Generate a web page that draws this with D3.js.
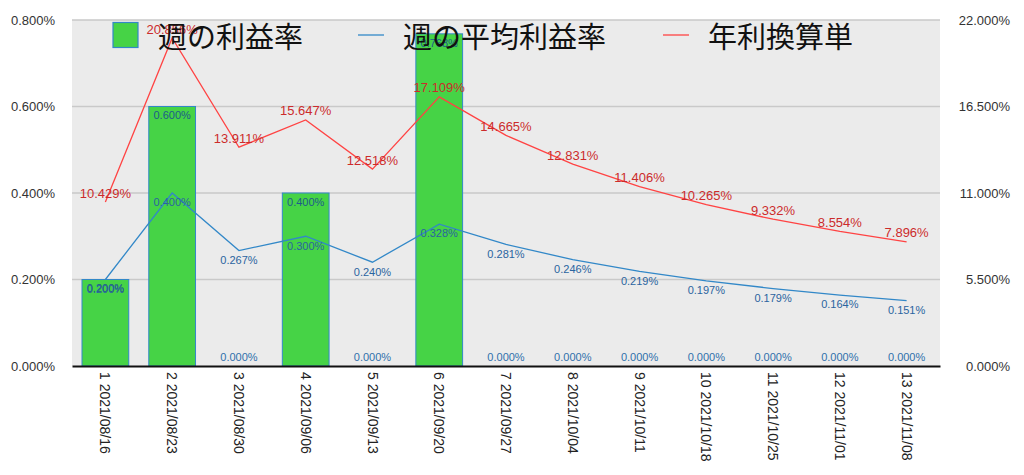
<!DOCTYPE html>
<html>
<head>
<meta charset="utf-8">
<script src="https://cdn.jsdelivr.net/npm/d3@7"></script>
<style>
  body { margin: 0; background: #fff; }
  text { font-family: "Liberation Sans", Arial, sans-serif; }
</style>
</head>
<body>
<div id="chart"></div>
<script>
const weeks = ["1 2021/08/16", "2 2021/08/23", "3 2021/08/30", "4 2021/09/06", "5 2021/09/13",
    "6 2021/09/20", "7 2021/09/27", "8 2021/10/04", "9 2021/10/11", "10 2021/10/18",
    "11 2021/10/25", "12 2021/11/01", "13 2021/11/08"];
const weeklyRate = [0.2, 0.6, 0, 0.4, 0, 0.768, 0, 0, 0, 0, 0, 0, 0];
const avgRate = [0.2, 0.4, 0.267, 0.3, 0.24, 0.328, 0.281, 0.246, 0.219, 0.197, 0.179, 0.164, 0.151];
const annualRate = [10.429, 20.856, 13.911, 15.647, 12.518, 17.109, 14.665, 12.831, 11.406, 10.265, 9.332, 8.554, 7.896];
const leftTicks = [0, 0.2, 0.4, 0.6, 0.8];
const rightTicks = [0, 5.5, 11, 16.5, 22];
const seriesNames = ["週の利益率", "週の平均利益率", "年利換算単"];

const params = {
    width: 1024,
    height: 475,
    margin: {top: 20, right: 84, bottom: 109, left: 72},
    barFill: "#46d346",
    blue: "#3288c8",
    red: "#ff4343"
};

const innerW = params.width - params.margin.left - params.margin.right;
const innerH = params.height - params.margin.top - params.margin.bottom;

const svg = d3.select("#chart")
    .append("svg")
    .attr("width", params.width)
    .attr("height", params.height)
    .append("g")
    .attr("transform", `translate(${params.margin.left},${params.margin.top})`);

const x = d3.scaleBand().domain(weeks).range([0, innerW]).padding(0);
const yL = d3.scaleLinear().domain([0, 0.8]).range([innerH, 0]);
const yR = d3.scaleLinear().domain([0, 22]).range([innerH, 0]);
const barW = x.bandwidth() * 0.7;
const cx = d => x(d) + x.bandwidth() / 2;
const fmt = v => v.toFixed(3) + "%";

// plot background
svg.append("rect")
    .attr("width", innerW)
    .attr("height", innerH)
    .attr("fill", "#ebebeb");

// grid lines
svg.append("g")
    .selectAll("line")
    .data(leftTicks.slice(1))
    .enter().append("line")
    .attr("x1", 0).attr("x2", innerW)
    .attr("y1", d => yL(d)).attr("y2", d => yL(d))
    .attr("stroke", "#c9c9c9")
    .attr("stroke-width", 1.5);

// left axis
const left = svg.append("g")
    .call(d3.axisLeft(yL).tickValues(leftTicks).tickSize(0).tickPadding(17).tickFormat(fmt));
left.select(".domain").remove();
left.selectAll("text").attr("font-size", 13).attr("fill", "#333").style("font-family", "Liberation Sans, Arial");

// right axis
const right = svg.append("g")
    .attr("transform", `translate(${innerW},0)`)
    .call(d3.axisRight(yR).tickValues(rightTicks).tickSize(0).tickPadding(70).tickFormat(fmt));
right.select(".domain").remove();
right.selectAll("text").attr("font-size", 13).attr("fill", "#333")
    .attr("text-anchor", "end").style("font-family", "Liberation Sans, Arial");

// bars
svg.append("g")
    .selectAll("rect")
    .data(weeks)
    .enter().append("rect")
    .attr("x", (d) => cx(d) - barW / 2)
    .attr("y", (d, i) => yL(weeklyRate[i]))
    .attr("width", barW)
    .attr("height", (d, i) => innerH - yL(weeklyRate[i]))
    .attr("fill", params.barFill)
    .attr("stroke", params.blue)
    .attr("stroke-width", 1);

// lines
const avgLine = d3.line().x((d, i) => cx(weeks[i])).y(d => yL(d));
const annLine = d3.line().x((d, i) => cx(weeks[i])).y(d => yR(d));

svg.append("path")
    .datum(avgRate)
    .attr("d", avgLine)
    .attr("fill", "none")
    .attr("stroke", params.blue)
    .attr("stroke-width", 1.3);

svg.append("path")
    .datum(annualRate)
    .attr("d", annLine)
    .attr("fill", "none")
    .attr("stroke", params.red)
    .attr("stroke-width", 1.3);

// x axis
const xAxis = svg.append("g")
    .attr("transform", `translate(0,${innerH})`)
    .call(d3.axisBottom(x).tickSize(0).tickSizeOuter(0));
xAxis.select(".domain").attr("stroke", "#111").attr("stroke-width", 2);
xAxis.selectAll("text")
    .attr("font-size", 14)
    .attr("fill", "#222")
    .style("font-family", "Liberation Sans, Arial")
    .style("text-anchor", "start")
    .attr("y", 0)
    .attr("dy", "0.35em")
    .attr("transform", "translate(0,6) rotate(90)");

// bar labels
svg.append("g")
    .selectAll("text")
    .data(weeklyRate)
    .enter().append("text")
    .attr("x", (d, i) => cx(weeks[i]))
    .attr("y", d => d > 0 ? yL(d) + 9 : innerH - 9)
    .attr("dy", "0.35em")
    .attr("text-anchor", "middle")
    .attr("font-size", 11)
    .attr("fill", d => d > 0 ? "#1d5c8a" : "#2f70ab")
    .text(fmt);

// average labels
svg.append("g")
    .selectAll("text")
    .data(avgRate)
    .enter().append("text")
    .attr("x", (d, i) => cx(weeks[i]))
    .attr("y", d => yL(d) + 9.5)
    .attr("dy", "0.35em")
    .attr("text-anchor", "middle")
    .attr("font-size", 11)
    .attr("fill", "#2a64a0")
    .text(fmt);

// annual labels
svg.append("g")
    .selectAll("text")
    .data(annualRate)
    .enter().append("text")
    .attr("x", (d, i) => cx(weeks[i]))
    .attr("y", d => yR(d) - 9)
    .attr("dy", "0.35em")
    .attr("text-anchor", "middle")
    .attr("font-size", 13)
    .attr("fill", "#cc2b2b")
    .text(fmt);

// legend, drawn last so it sits over the labels like the original
const legendX = [41, 286, 591];
const legend = svg.append("g")
    .selectAll("g")
    .data(seriesNames)
    .enter().append("g")
    .attr("transform", (d, i) => `translate(${legendX[i]},15)`);

legend.filter((d, i) => i === 0).append("rect")
    .attr("x", 0).attr("y", -12.5)
    .attr("width", 25).attr("height", 25)
    .attr("fill", params.barFill)
    .attr("stroke", params.blue)
    .attr("stroke-width", 1.2);

legend.filter((d, i) => i > 0).append("line")
    .attr("x1", 0).attr("x2", 26)
    .attr("y1", 0).attr("y2", 0)
    .attr("stroke", (d, i) => i === 0 ? params.blue : params.red)
    .attr("stroke-width", 1.3);

legend.append("text")
    .attr("x", 45)
    .attr("y", 0)
    .attr("dominant-baseline", "central")
    .attr("font-size", 29)
    .attr("fill", "#111")
    .style("font-family", "'Noto Sans CJK JP', sans-serif")
    .text(d => d);
</script>
</body>
</html>
